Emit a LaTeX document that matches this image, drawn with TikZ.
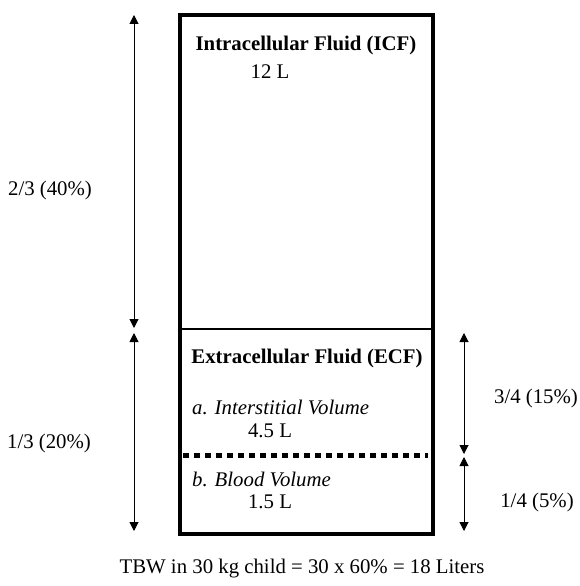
\documentclass[tikz,border=0pt]{standalone}
\usepackage{fontspec}
\setmainfont{Liberation Serif}
\usetikzlibrary{arrows.meta}
\begin{document}
\begin{tikzpicture}[x=1pt,y=-1pt,
  lbl/.style={font=\fontsize{20.8}{24}\selectfont, inner sep=0pt},
  hdr/.style={font=\fontsize{20.8}{24}\selectfont\bfseries, inner sep=0pt},
  itl/.style={font=\fontsize{20.8}{24}\selectfont\itshape, inner sep=0pt, anchor=west},
  dim/.style={line width=1pt, {Stealth[length=9pt,width=9pt,inset=0pt]}-{Stealth[length=9pt,width=9pt,inset=0pt]}}]
\useasboundingbox (0,0) rectangle (579,586);
% box
\coordinate (tl) at (180,15);
\coordinate (br) at (433,534);
\draw[line width=4.5pt] (tl) rectangle (br);
\coordinate (dl) at (180,329);
\coordinate (dr) at (433,329);
\draw[line width=2.2pt] (dl) -- (dr);
\coordinate (bl) at (183,455);
\coordinate (bri) at (428,455);
\draw[line width=5pt, dash pattern=on 6pt off 5pt] (bl) -- (bri);
% left dims
\coordinate (l1) at (134,15);
\coordinate (l2) at (134,328);
\coordinate (l3) at (134,333);
\coordinate (l4) at (134,531);
\draw[dim] (l1) -- (l2);
\draw[dim] (l3) -- (l4);
% right dims
\coordinate (r1) at (464,333);
\coordinate (r2) at (464,454);
\coordinate (r3) at (464,457);
\coordinate (r4) at (464,531);
\draw[dim] (r1) -- (r2);
\draw[dim] (r3) -- (r4);
% texts
\node[hdr] (icf) at (306,45) {Intracellular Fluid (ICF)};
\node[lbl] (icfv) at (270,72) {12 L};
\node[lbl] (f23) at (50,190) {2/3 (40\%)};
\node[hdr] (ecf) at (307,358) {Extracellular Fluid (ECF)};
\node[itl] (iv) at (192,407) {a. Interstitial Volume};
\node[lbl] (ivv) at (270,431) {4.5 L};
\node[itl] (bv) at (192,479) {b. Blood Volume};
\node[lbl] (bvv) at (270,502) {1.5 L};
\node[lbl] (f13) at (49,443) {1/3 (20\%)};
\node[lbl] (f34) at (536,398) {3/4 (15\%)};
\node[lbl] (f14) at (537,502) {1/4 (5\%)};
\node[lbl] (tbw) at (302,569) {TBW in 30 kg child = 30 x 60\% = 18 Liters};
\end{tikzpicture}
\end{document}
